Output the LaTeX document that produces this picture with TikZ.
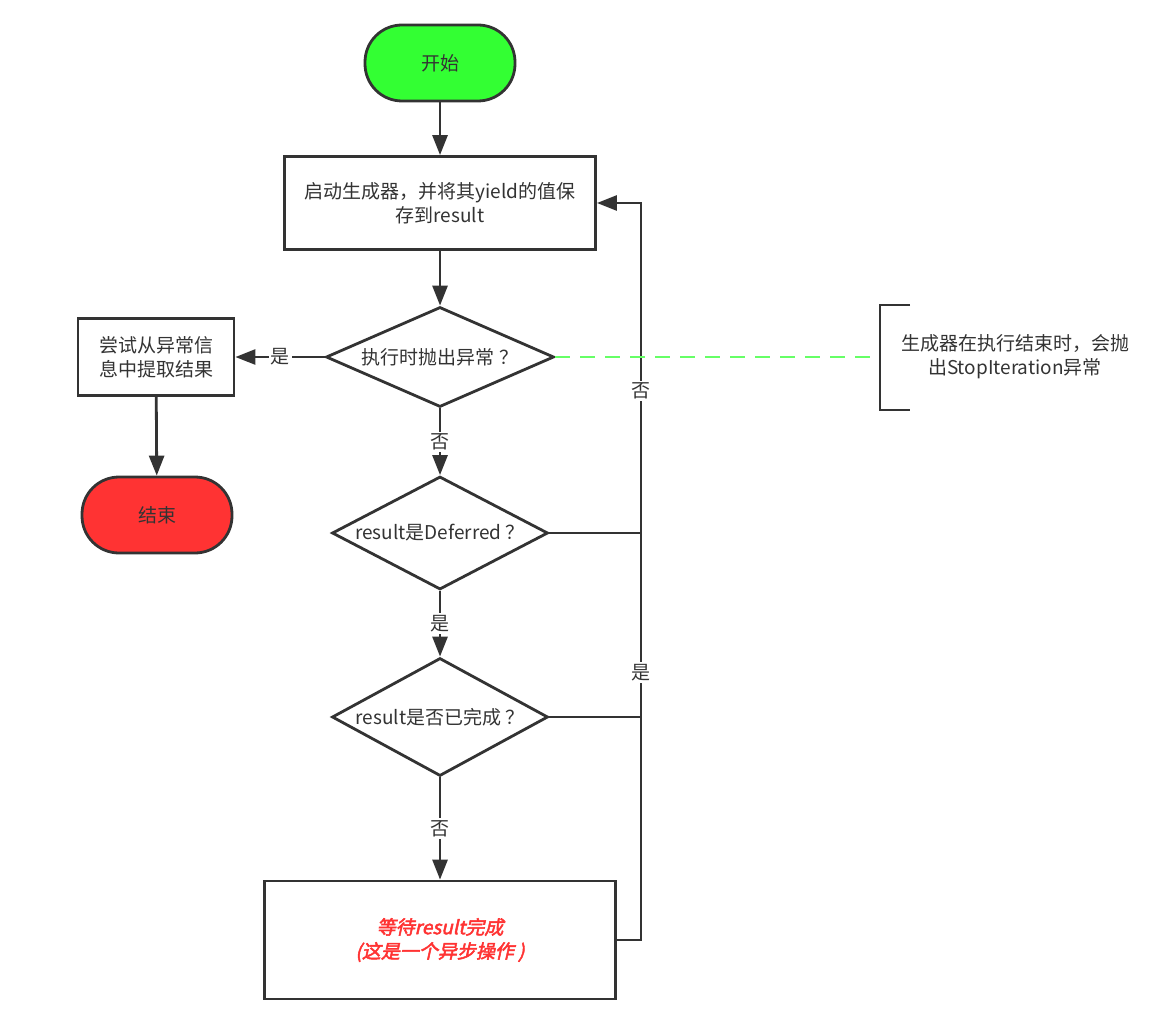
\documentclass[tikz,border=0pt]{standalone}
\usepackage{fontspec}
\setmainfont{Noto Sans CJK SC}
\newfontfamily\waitfont[FakeSlant=0.22,FakeBold=2.5]{Noto Sans CJK SC}
\usetikzlibrary{shapes.geometric,arrows.meta}
\definecolor{ink}{HTML}{333333}
\definecolor{startgreen}{HTML}{33FF33}
\definecolor{endred}{HTML}{FF3333}
\definecolor{notegreen}{HTML}{66FF66}
\begin{document}
\begin{tikzpicture}[x=1pt,y=-1pt,font=\fontsize{19}{24}\selectfont,text=ink,
	term/.style={draw=ink,line width=2.8pt,rounded corners=37pt,minimum width=150pt,minimum height=76pt},
	proc/.style={draw=ink,line width=2.8pt,fill=white,align=center},
	cond/.style={draw=ink,line width=2.8pt,diamond,inner sep=0pt,align=center},
	flow/.style={draw=ink,line width=2.8pt,-{Triangle[length=20pt,width=15pt]}},
	plain/.style={draw=ink,line width=2.8pt},
	lbl/.style={fill=white,inner sep=2pt}]
			\useasboundingbox (0,0) rectangle (1155,1032);
			\node[term,fill=startgreen] (start) at (440,63) {开始};
			\node[proc,minimum width=311pt,minimum height=93pt] (gen) at (440,203) {启动生成器，并将其yield的值保\\存到result};
			\node[cond,minimum width=228pt,minimum height=100pt,aspect=2.3] (raise) at (440,357) {执行时抛出异常 ？};
			\node[proc,minimum width=156pt,minimum height=77pt] (fetch) at (156,357) {尝试从异常信\\息中提取结果};
			\node[term,fill=endred] (stop) at (157,515) {结束};
			\node[cond,minimum width=216pt,minimum height=113pt,aspect=1.9] (isdef) at (440,533) {result是Deferred ？};
			\node[cond,minimum width=216pt,minimum height=118pt,aspect=1.9] (isdone) at (440,717) {result是否已完成 ？};
			\node[proc,minimum width=351pt,minimum height=118pt,text=endred,font=\waitfont\fontsize{19}{24}\selectfont] (wait) at (440,940) {等待result完成\\(这是一个异步操作 )};
			\node[align=center] (notetext) at (1015,357) {生成器在执行结束时，会抛\\出StopIteration异常};
			\coordinate (note) at (880,357);
			\coordinate (back) at (641,203);
			\draw[flow] (start) -- (gen);
			\draw[flow] (gen) -- (raise);
			\draw[flow] (raise) -- node[lbl]{是} (fetch);
			\draw[flow] (fetch) -- (stop);
			\draw[flow] (raise) -- node[lbl]{否} (isdef);
			\draw[flow] (isdef) -- node[lbl]{是} (isdone);
			\draw[flow] (isdone) -- node[lbl]{否} (wait);
			\draw[plain] (wait.east) -| (isdone.east -| back);
			\draw[plain] (isdone.east) -- (isdone.east -| back) -- node[lbl,pos=0.24]{是} (isdef.east -| back);
			\draw[flow] (isdef.east) -- (isdef.east -| back) -- node[lbl,pos=0.43]{否} (back) -- (gen.east);
			\draw[plain] (910,305) -- (880,305) -- (880,410) -- (910,410);
			\draw[notegreen,line width=2.8pt,dash pattern=on 15pt off 10pt] (raise.east) -- (note);
		\end{tikzpicture}
\end{document}
